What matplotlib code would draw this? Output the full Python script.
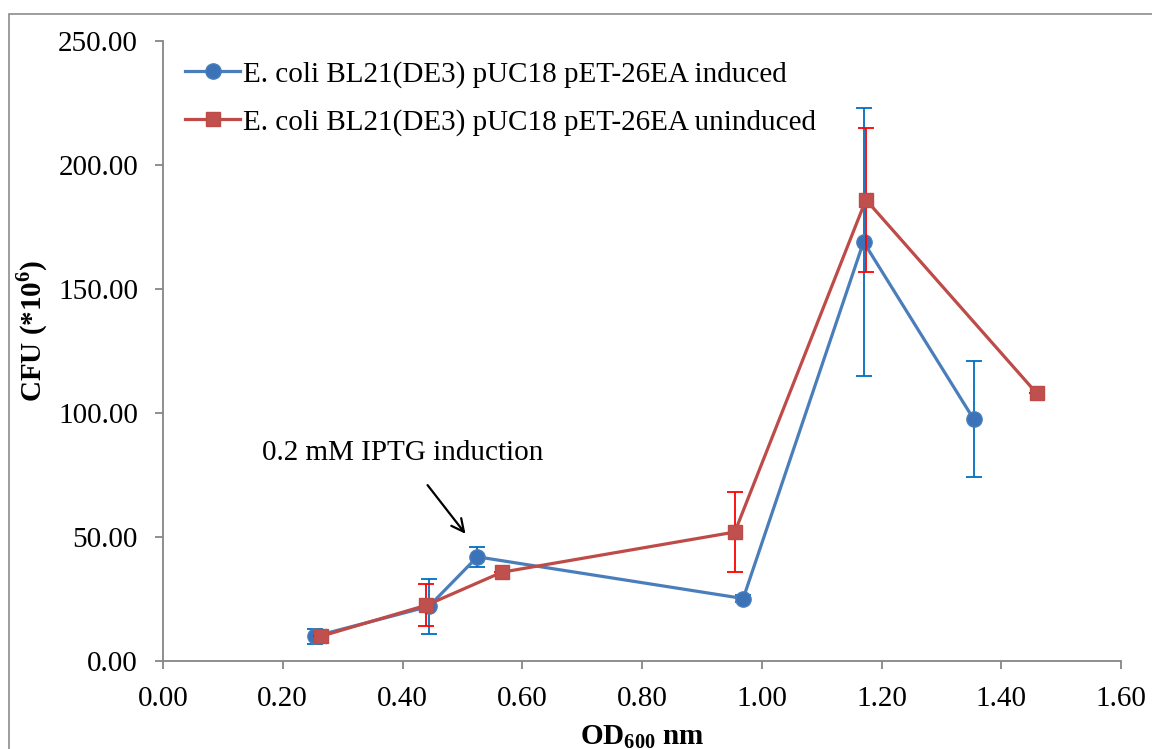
import numpy as np
import matplotlib
matplotlib.use("Agg")
import matplotlib.pyplot as plt
from matplotlib.patches import Rectangle

plt.rcParams["font.family"] = ["Liberation Serif", "DejaVu Serif"]
plt.rcParams["mathtext.fontset"] = "custom"
plt.rcParams["mathtext.rm"] = "Liberation Serif"
plt.rcParams["mathtext.bf"] = "Liberation Serif:bold"

# --- data ---
induced_label = "E. coli BL21(DE3) pUC18 pET-26EA induced"
induced_od = [0.254, 0.444, 0.525, 0.969, 1.170, 1.354]
induced_cfu = [10.0, 22.0, 42.0, 25.2, 169.0, 97.5]
induced_err = [3.0, 11.0, 4.0, 1.5, 54.0, 23.5]

uninduced_label = "E. coli BL21(DE3) pUC18 pET-26EA uninduced"
uninduced_od = [0.264, 0.440, 0.566, 0.955, 1.174, 1.459]
uninduced_cfu = [10.0, 22.5, 35.8, 52.0, 186.0, 108.0]
uninduced_err = [0.0, 8.5, 0.0, 16.0, 29.0, 0.0]

x_ticks = [0.0, 0.2, 0.4, 0.6, 0.8, 1.0, 1.2, 1.4, 1.6]
y_ticks = [0, 50, 100, 150, 200, 250]

FS = 21
GRAY = "#868686"

fig = plt.figure(figsize=(11.52, 7.49), dpi=100)
ax = fig.add_axes([163 / 1152, 1 - 661 / 749, 958 / 1152, 620 / 749])

# induced series (blue)
ax.errorbar(induced_od, induced_cfu, yerr=induced_err, fmt="none",
            ecolor="#0070C0", elinewidth=1.3, capsize=5.5, capthick=1.3, zorder=2)
ax.plot(induced_od, induced_cfu, color="#4A7EBB", lw=2.3, marker="o",
        markersize=11, markerfacecolor="#3C72B8", markeredgecolor="#4A7EBB",
        label=induced_label, zorder=3)

# uninduced series (red)
ax.errorbar(uninduced_od, uninduced_cfu, yerr=uninduced_err, fmt="none",
            ecolor="#FF0000", elinewidth=1.3, capsize=5.5, capthick=1.3, zorder=4)
ax.plot(uninduced_od, uninduced_cfu, color="#BE4B48", lw=2.3, marker="s",
        markersize=10.5, markerfacecolor="#C0504D", markeredgecolor="#BE4B48",
        label=uninduced_label, zorder=5)

ax.set_xlim(0, 1.6)
ax.set_ylim(0, 250)
ax.set_xticks(x_ticks)
ax.set_yticks(y_ticks)
ax.set_xticklabels([f"{v:.2f}" for v in x_ticks], fontsize=FS)
ax.set_yticklabels([f"{v:.2f}" for v in y_ticks], fontsize=FS)

for side in ("top", "right"):
    ax.spines[side].set_visible(False)
for side in ("left", "bottom"):
    ax.spines[side].set_color(GRAY)
    ax.spines[side].set_linewidth(1.3)
ax.tick_params(axis="both", direction="out", length=6, width=1.3,
               color=GRAY, pad=12)

ax.set_xlabel("OD$_{\\mathbf{600}}$ nm", fontsize=FS, fontweight="bold")
ax.xaxis.set_label_coords(0.5, -0.1)
ax.set_ylabel("CFU (*10$^{\\mathbf{6}}$)", fontsize=FS, fontweight="bold",
              va="center")
ax.yaxis.set_label_coords(-0.137, 0.532)

# annotation
ax.text(0.3995, 84, "0.2 mM IPTG induction", fontsize=FS,
        ha="center", va="center")
ax.annotate("", xy=(0.508, 50.4), xytext=(0.439, 71.8),
            arrowprops=dict(arrowstyle="->,head_length=0.9,head_width=0.45",
                            color="black", lw=1.6))

leg = ax.legend(loc="upper left", bbox_to_anchor=(185 / 1152, 1 - 61 / 749),
                bbox_transform=fig.transFigure, frameon=False, fontsize=FS,
                handlelength=1.9, handletextpad=0.1, labelspacing=0.72,
                borderpad=0, borderaxespad=0)

# chart-area border (cropped at right / bottom)
fig.add_artist(Rectangle((9 / 1152, -0.2), 1.2, 1.2 - 14 / 749,
                         transform=fig.transFigure, fill=False,
                         edgecolor="#8C8C8C", lw=1.2))

fig.savefig("out.png", dpi=100)
